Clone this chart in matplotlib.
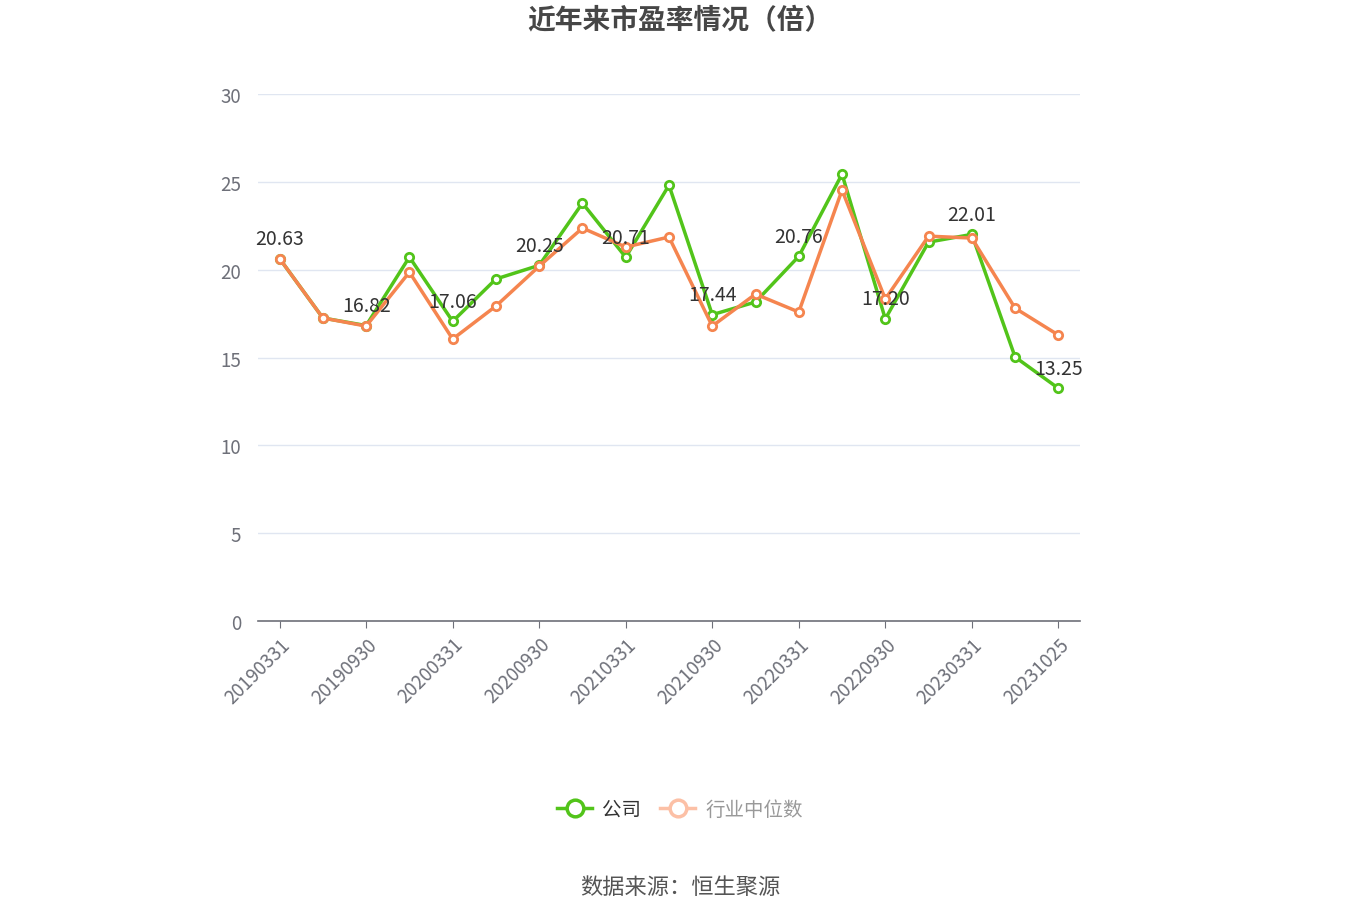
import matplotlib
matplotlib.use("Agg")
import matplotlib.pyplot as plt
from matplotlib.lines import Line2D

plt.rcParams['font.family'] = ['Noto Sans CJK SC', 'DejaVu Sans']

# data
dates = ['20190331', '20190630', '20190930', '20191231', '20200331', '20200630',
         '20200930', '20201231', '20210331', '20210630', '20210930', '20211231',
         '20220331', '20220630', '20220930', '20221231', '20230331', '20230630',
         '20231025']
company = [20.63, 17.25, 16.82, 20.72, 17.06, 19.47, 20.25, 23.79, 20.71, 24.81,
           17.44, 18.16, 20.76, 25.44, 17.20, 21.57, 22.01, 15.03, 13.25]
industry = [20.63, 17.25, 16.79, 19.86, 16.05, 17.93, 20.20, 22.37, 21.29, 21.86,
            16.79, 18.61, 17.59, 24.53, 18.33, 21.91, 21.80, 17.81, 16.28]
yticks = [0, 5, 10, 15, 20, 25, 30]

green = '#52c41a'
orange = '#f5854f'

fig = plt.figure(figsize=(13.6, 9.2), dpi=100)
ax = fig.add_axes([0.1897, 0.3239, 0.6044, 0.5728])

x = list(range(len(dates)))
ax.plot(x, company, color=green, lw=2.5, marker='o', ms=6, mfc='white',
        mec=green, mew=2, zorder=3)
ax.plot(x, industry, color=orange, lw=2.5, marker='o', ms=6, mfc='white',
        mec=orange, mew=2, zorder=4)

# value labels on every other company point
for i in range(0, len(dates), 2):
    ax.annotate('%.2f' % company[i], (i, company[i]), xytext=(0, 7),
                textcoords='offset points', ha='center', va='bottom',
                fontsize=14, color='#333333', zorder=5)

ax.set_xlim(-0.5, len(dates) - 0.5)
ax.set_ylim(0, 30)
ax.set_yticks(yticks)
ax.set_yticklabels([str(v) for v in yticks], fontsize=13.5, color='#6e7079')
ax.tick_params(axis='y', length=0, pad=12)
ax.grid(axis='y', color='#e0e6f1', lw=1)
ax.set_axisbelow(True)

ax.set_xticks(x[::2])
ax.set_xticklabels(dates[::2], rotation=45, ha='right', rotation_mode='anchor',
                   fontsize=13.5, color='#6e7079')
ax.tick_params(axis='x', length=5, color='#6e7079', pad=4)

for s in ['top', 'right', 'left']:
    ax.spines[s].set_visible(False)
ax.spines['bottom'].set_color('#6e7079')
ax.spines['bottom'].set_linewidth(1.2)

fig.text(0.5, 0.977, '近年来市盈率情况（倍）', ha='center', va='center',
         fontsize=20, fontweight='bold', color='#464646')

handles = [
    Line2D([], [], color=green, lw=2.5, marker='o', ms=12, mfc='white', mec=green, mew=2.5),
    Line2D([], [], color='#fcc0a6', lw=2.5, marker='o', ms=12, mfc='white', mec='#fcc0a6', mew=2.5),
]
leg = fig.legend(handles, ['公司', '行业中位数'], loc='center', bbox_to_anchor=(0.5, 0.119),
                 ncol=2, frameon=False, fontsize=14, handlelength=1.8,
                 columnspacing=1.0, handletextpad=0.5)
leg.get_texts()[0].set_color('#333333')
leg.get_texts()[1].set_color('#999999')

fig.text(0.5, 0.035, '数据来源：恒生聚源', ha='center', va='center',
         fontsize=16, color='#555555')

fig.savefig('out.png', dpi=100, facecolor='white')
